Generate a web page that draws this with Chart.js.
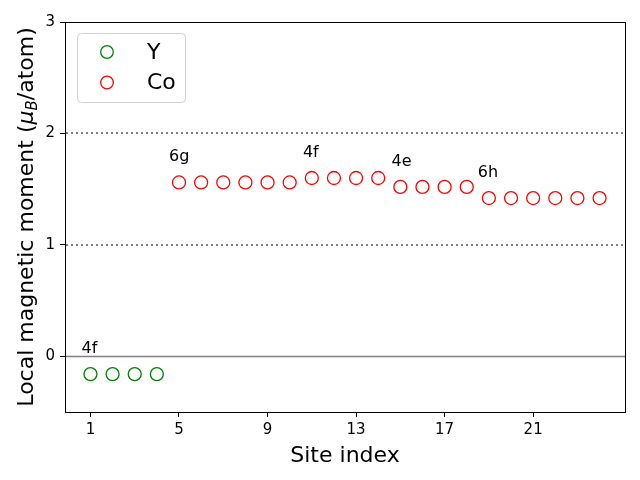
<!DOCTYPE html>
<html>
<head>
<meta charset="utf-8">
<script src="https://cdn.jsdelivr.net/npm/chart.js@4.4.1/dist/chart.umd.min.js"></script>
<style>html,body{margin:0;padding:0;background:#fff;}canvas{display:block;}</style>
</head>
<body>
<canvas id="c" width="640" height="480"></canvas>
<script>
// ---- data ----
const ySites = [1, 2, 3, 4];
const yMoments = [-0.16, -0.16, -0.16, -0.16];
const coSites = [5, 6, 7, 8, 9, 10, 11, 12, 13, 14, 15, 16, 17, 18, 19, 20, 21, 22, 23, 24];
const coMoments = [1.56, 1.56, 1.56, 1.56, 1.56, 1.56, 1.60, 1.60, 1.60, 1.60, 1.52, 1.52, 1.52, 1.52, 1.42, 1.42, 1.42, 1.42, 1.42, 1.42];
const seriesNames = ['Y', 'Co'];
const xTicks = [1, 5, 9, 13, 17, 21];
const yTicks = [0, 1, 2, 3];
const wyckoffLabels = ['4f', '6g', '4f', '4e', '6h'];
const wyckoffX = [0.6, 4.55, 10.6, 14.6, 18.5];
const wyckoffY = [0.03, 1.75, 1.79, 1.71, 1.61];
const solidRefLines = [0];
const dottedRefLines = [1, 2];

const FONT = '"DejaVu Sans", sans-serif';
const toXY = (xs, ys) => xs.map((x, i) => ({x: x, y: ys[i]}));

const decor = {
  id: 'decor',
  beforeDatasetsDraw(chart) {
    const ctx = chart.ctx, a = chart.chartArea, ys = chart.scales.y;
    ctx.save();
    ctx.strokeStyle = '#808080';
    ctx.lineWidth = 1.5;
    solidRefLines.forEach(v => {
      const p = Math.round(ys.getPixelForValue(v)) + 0.5;
      ctx.beginPath(); ctx.moveTo(a.left, p); ctx.lineTo(a.right, p); ctx.stroke();
    });
    ctx.lineWidth = 2;
    ctx.setLineDash([2, 3]);
    dottedRefLines.forEach(v => {
      const p = Math.round(ys.getPixelForValue(v));
      ctx.beginPath(); ctx.moveTo(a.left + 1, p); ctx.lineTo(a.right, p); ctx.stroke();
    });
    ctx.restore();
  },
  afterDraw(chart) {
    const ctx = chart.ctx, a = chart.chartArea, xs = chart.scales.x, ys = chart.scales.y;
    ctx.save();
    // frame
    ctx.strokeStyle = '#000';
    ctx.lineWidth = 1;
    ctx.strokeRect(Math.round(a.left) + 0.5, Math.round(a.top) + 0.5, Math.round(a.right - a.left), Math.round(a.bottom - a.top));
    // wyckoff labels
    ctx.fillStyle = '#000';
    ctx.font = '16px ' + FONT;
    ctx.textAlign = 'left';
    ctx.textBaseline = 'alphabetic';
    wyckoffLabels.forEach((t, i) => {
      ctx.fillText(t, xs.getPixelForValue(wyckoffX[i]), ys.getPixelForValue(wyckoffY[i]));
    });
    // axis titles
    ctx.font = '22px ' + FONT;
    ctx.textAlign = 'center';
    ctx.fillText('Site index', (a.left + a.right) / 2, 462);
    ctx.save();
    ctx.translate(33, (a.top + a.bottom) / 2);
    ctx.rotate(-Math.PI / 2);
    const parts = [
      {t: 'Local magnetic moment (', f: '22px ' + FONT, dy: 0},
      {t: 'μ', f: 'italic 22px ' + FONT, dy: 0},
      {t: 'B', f: 'italic 15px ' + FONT, dy: 4},
      {t: '/atom)', f: '22px ' + FONT, dy: 0}
    ];
    let total = 0;
    parts.forEach(p => { ctx.font = p.f; p.w = ctx.measureText(p.t).width; total += p.w; });
    let x = -total / 2;
    ctx.textAlign = 'left';
    parts.forEach(p => { ctx.font = p.f; ctx.fillText(p.t, x, p.dy); x += p.w; });
    ctx.restore();
    // legend
    const lx = 77, ly = 33, lw = 108, lh = 69, r = 4;
    ctx.fillStyle = 'rgba(255,255,255,0.8)';
    ctx.strokeStyle = '#d0d0d0';
    ctx.lineWidth = 1;
    ctx.beginPath();
    ctx.roundRect(lx + 0.5, ly + 0.5, lw, lh, r);
    ctx.fill(); ctx.stroke();
    const ds = chart.data.datasets;
    ctx.font = '22px ' + FONT;
    ctx.textAlign = 'left';
    ctx.textBaseline = 'middle';
    ds.forEach((d, i) => {
      const cy = 52 + i * 30.5;
      ctx.strokeStyle = d.borderColor;
      ctx.lineWidth = 1.3;
      ctx.beginPath(); ctx.arc(107, cy, 6.3, 0, Math.PI * 2); ctx.stroke();
      ctx.fillStyle = '#000';
      ctx.fillText(d.label, 147, cy + 1);
    });
    ctx.restore();
  }
};

new Chart(document.getElementById('c'), {
  type: 'scatter',
  data: {
    datasets: [
      {label: seriesNames[0], data: toXY(ySites, yMoments), borderColor: '#008000', backgroundColor: 'rgba(0,0,0,0)', pointRadius: 6.5, pointBorderWidth: 1.3, pointHoverRadius: 6.5},
      {label: seriesNames[1], data: toXY(coSites, coMoments), borderColor: '#ff0000', backgroundColor: 'rgba(0,0,0,0)', pointRadius: 6.5, pointBorderWidth: 1.3, pointHoverRadius: 6.5}
    ]
  },
  options: {
    responsive: false,
    animation: false,
    devicePixelRatio: 1,
    layout: {padding: {top: 22, right: 15, left: 0, bottom: 0}},
    plugins: {legend: {display: false}, tooltip: {enabled: false}},
    scales: {
      x: {
        type: 'linear', min: -0.15, max: 25.15,
        afterBuildTicks: s => { s.ticks = xTicks.map(v => ({value: v})); },
        afterFit: s => { s.height = 68; },
        grid: {drawOnChartArea: false, drawTicks: true, tickLength: 5, color: '#000', tickWidth: 1},
        border: {display: true, color: '#000', width: 1},
        ticks: {color: '#000', font: {family: FONT, size: 15}, padding: 4, maxRotation: 0, autoSkip: false}
      },
      y: {
        type: 'linear', min: -0.5, max: 3,
        afterBuildTicks: s => { s.ticks = yTicks.map(v => ({value: v})); },
        afterFit: s => { s.width = 65; },
        grid: {drawOnChartArea: false, drawTicks: true, tickLength: 5, color: '#000', tickWidth: 1},
        border: {display: true, color: '#000', width: 1},
        ticks: {color: '#000', font: {family: FONT, size: 15}, padding: 5, autoSkip: false}
      }
    }
  },
  plugins: [decor]
});
</script>
</body>
</html>
